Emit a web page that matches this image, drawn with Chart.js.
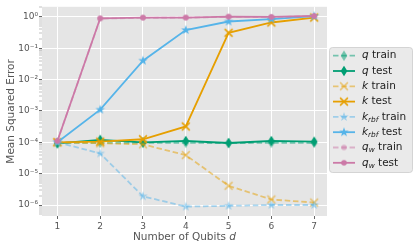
<!DOCTYPE html>
<html>
<head>
<meta charset="utf-8">
<script src="https://cdn.jsdelivr.net/npm/chart.js@4.4.1/dist/chart.umd.min.js"></script>
<style>
  html, body { margin: 0; padding: 0; background: #fff; }
  #wrap { width: 418px; height: 249px; }
</style>
</head>
<body>
<div id="wrap"><canvas id="mse"></canvas></div>
<script>
// qubit counts on the x axis
const qubits = [1, 2, 3, 4, 5, 6, 7];

// mean squared error per model
const qTrain    = [9.5e-5, 9.6e-5, 9.5e-5, 9.6e-5, 9.4e-5, 9.6e-5, 9.5e-5];
const qTest     = [9.2e-5, 1.2e-4, 1.0e-4, 1.1e-4, 9.5e-5, 1.1e-4, 1.05e-4];
const kTrain    = [1.0e-4, 9.3e-5, 8.6e-5, 3.9e-5, 4.1e-6, 1.5e-6, 1.2e-6];
const kTest     = [1.0e-4, 1.05e-4, 1.25e-4, 3.2e-4, 0.31, 0.66, 0.95];
const krbfTrain = [1.0e-4, 4.4e-5, 1.9e-6, 8.9e-7, 9.4e-7, 1.0e-6, 1.0e-6];
const krbfTest  = [1.0e-4, 1.1e-3, 0.04, 0.38, 0.71, 0.85, 1.05];
const qwTrain   = [1.1e-4, 0.88, 0.93, 0.94, 1.0, 0.98, 1.05];
const qwTest    = [1.1e-4, 0.9, 0.95, 0.95, 1.02, 1.0, 1.07];

const xTickLabels = ['1', '2', '3', '4', '5', '6', '7'];
const yTickLabels = ['10⁻⁶', '10⁻⁵', '10⁻⁴', '10⁻³', '10⁻²', '10⁻¹', '10⁰'];

const GREEN = '#009E73', ORANGE = '#E69F00', BLUE = '#56B4E9', PINK = '#CC79A7';

function drawShape(g, kind, color, m) {
  g.fillStyle = color;
  g.strokeStyle = color;
  g.beginPath();
  if (kind === 'diamond') {
    g.moveTo(m, m - 5.3); g.lineTo(m + 3.3, m); g.lineTo(m, m + 5.3); g.lineTo(m - 3.3, m);
    g.closePath(); g.fill();
  } else if (kind === 'x') {
    g.lineWidth = 1.5;
    g.moveTo(m - 3.9, m - 3.9); g.lineTo(m + 3.9, m + 3.9);
    g.moveTo(m + 3.9, m - 3.9); g.lineTo(m - 3.9, m + 3.9);
    g.stroke();
  } else if (kind === 'star') {
    for (let i = 0; i < 10; i++) {
      const r = i % 2 ? 2.0 : 5.0;
      const a = -Math.PI / 2 + i * Math.PI / 5;
      const px = m + r * Math.cos(a), py = m + r * Math.sin(a);
      i ? g.lineTo(px, py) : g.moveTo(px, py);
    }
    g.closePath(); g.fill();
  } else {
    g.arc(m, m, 2.8, 0, Math.PI * 2); g.fill();
  }
}

function makeMarker(kind, color, alpha) {
  const s = 14;
  const tmp = document.createElement('canvas');
  tmp.width = tmp.height = s;
  drawShape(tmp.getContext('2d'), kind, color, s / 2);
  const c = document.createElement('canvas');
  c.width = c.height = s;
  const g = c.getContext('2d');
  g.globalAlpha = alpha;
  g.drawImage(tmp, 0, 0);
  return c;
}

function rgba(hex, a) {
  const n = parseInt(hex.slice(1), 16);
  return `rgba(${n >> 16},${(n >> 8) & 255},${n & 255},${a})`;
}

const series = [
  { base: 'q', sub: '',    rest: ' train', data: qTrain,    color: GREEN,  kind: 'diamond', train: true },
  { base: 'q', sub: '',    rest: ' test',  data: qTest,     color: GREEN,  kind: 'diamond', train: false },
  { base: 'k', sub: '',    rest: ' train', data: kTrain,    color: ORANGE, kind: 'x',       train: true },
  { base: 'k', sub: '',    rest: ' test',  data: kTest,     color: ORANGE, kind: 'x',       train: false },
  { base: 'k', sub: 'rbf', rest: ' train', data: krbfTrain, color: BLUE,   kind: 'star',    train: true },
  { base: 'k', sub: 'rbf', rest: ' test',  data: krbfTest,  color: BLUE,   kind: 'star',    train: false },
  { base: 'q', sub: 'w',   rest: ' train', data: qwTrain,   color: PINK,   kind: 'circle',  train: true },
  { base: 'q', sub: 'w',   rest: ' test',  data: qwTest,    color: PINK,   kind: 'circle',  train: false },
];
series.forEach(s => {
  s.alpha = s.train ? 0.5 : 1;
  s.marker = makeMarker(s.kind, s.color, s.alpha);
});

const datasets = series.map((s, i) => ({
  label: s.base + s.sub + s.rest,
  data: qubits.map((q, j) => ({ x: q, y: s.data[j] })),
  borderColor: rgba(s.color, s.alpha),
  borderWidth: 1.8,
  borderDash: s.train ? [5.5, 2.8] : [],
  pointStyle: s.marker,
  pointRadius: 5,
  pointHoverRadius: 5,
  tension: 0,
  fill: false,
  order: 10 - i,
}));

const isDecade = v => Math.abs(Math.log10(v) - Math.round(Math.log10(v))) < 1e-6;

const plotBg = {
  id: 'plotBg',
  beforeDraw(chart) {
    const { ctx, chartArea: a } = chart;
    ctx.save();
    ctx.fillStyle = '#E5E5E5';
    ctx.fillRect(a.left, a.top, a.right - a.left, a.bottom - a.top);
    ctx.restore();
  }
};

function drawLabel(ctx, s, x, y) {
  ctx.textBaseline = 'middle';
  ctx.textAlign = 'left';
  ctx.fillStyle = '#222';
  ctx.font = 'italic 10.5px "DejaVu Sans"';
  ctx.fillText(s.base, x, y);
  x += ctx.measureText(s.base).width;
  if (s.sub) {
    ctx.font = 'italic 7.4px "DejaVu Sans"';
    ctx.fillText(s.sub, x, y + 3);
    x += ctx.measureText(s.sub).width;
  }
  ctx.font = '10.5px "DejaVu Sans"';
  ctx.fillText(s.rest, x, y);
}

const decorations = {
  id: 'decorations',
  afterDraw(chart) {
    const { ctx, chartArea: a } = chart;
    ctx.save();
    // axis titles
    ctx.fillStyle = '#555';
    ctx.font = '10.5px "DejaVu Sans"';
    ctx.textBaseline = 'middle';
    ctx.save();
    ctx.translate(11, (a.top + a.bottom) / 2);
    ctx.rotate(-Math.PI / 2);
    ctx.textAlign = 'center';
    ctx.fillText('Mean Squared Error', 0, 0);
    ctx.restore();
    const t1 = 'Number of Qubits ';
    ctx.font = '10.5px "DejaVu Sans"';
    const w1 = ctx.measureText(t1).width;
    ctx.font = 'italic 10.5px "DejaVu Sans"';
    const w2 = ctx.measureText('d').width;
    let x0 = (a.left + a.right) / 2 - (w1 + w2) / 2;
    ctx.textAlign = 'left';
    ctx.font = '10.5px "DejaVu Sans"';
    ctx.fillText(t1, x0, 237);
    ctx.font = 'italic 10.5px "DejaVu Sans"';
    ctx.fillText('d', x0 + w1, 237);

    // legend
    const lx = 329.5, ly = 47.5, lw = 83, lh = 125;
    ctx.beginPath();
    ctx.roundRect(lx, ly, lw, lh, 3);
    ctx.fillStyle = 'rgba(229,229,229,0.8)';
    ctx.fill();
    ctx.strokeStyle = 'rgba(204,204,204,0.8)';
    ctx.lineWidth = 1;
    ctx.stroke();
    series.forEach((s, i) => {
      const y = 55.7 + i * 15.3;
      ctx.save();
      ctx.strokeStyle = rgba(s.color, s.alpha);
      ctx.lineWidth = 1.8;
      ctx.setLineDash(s.train ? [5.5, 2.8] : []);
      ctx.beginPath();
      ctx.moveTo(333, y);
      ctx.lineTo(355, y);
      ctx.stroke();
      ctx.restore();
      ctx.drawImage(s.marker, 344 - s.marker.width / 2, y - s.marker.height / 2);
      drawLabel(ctx, s, 362, y);
    });
    ctx.restore();
  }
};

new Chart(document.getElementById('mse'), {
  type: 'line',
  data: { datasets },
  options: {
    responsive: true,
    maintainAspectRatio: false,
    animation: false,
    layout: { padding: { left: 0, top: 6, right: 91, bottom: 0 } },
    plugins: { legend: { display: false }, tooltip: { enabled: false } },
    scales: {
      x: {
        type: 'linear',
        min: 0.64,
        max: 7.3,
        afterBuildTicks: scale => { scale.ticks = qubits.map(v => ({ value: v })); },
        afterFit: scale => { scale.height = 33; },
        border: { display: false },
        grid: { color: '#fff', lineWidth: 1, tickColor: '#666', tickWidth: 1, tickLength: 3 },
        ticks: {
          autoSkip: false,
          maxRotation: 0,
          padding: 2,
          color: '#555',
          font: { family: 'DejaVu Sans', size: 9 },
          callback: (v, i) => xTickLabels[i],
        },
      },
      y: {
        type: 'logarithmic',
        min: Math.pow(10, -6.35),
        max: Math.pow(10, 0.32),
        afterBuildTicks: scale => {
          const ticks = [];
          for (let e = -7; e <= 0; e++) {
            for (let k = 1; k <= 9; k++) {
              const v = k * Math.pow(10, e);
              if (v >= scale.min && v <= scale.max) ticks.push({ value: v });
            }
          }
          scale.ticks = ticks;
        },
        afterFit: scale => { scale.width = 42; },
        border: { display: false },
        grid: {
          color: c => isDecade(c.tick.value) ? '#fff' : 'rgba(0,0,0,0)',
          lineWidth: c => isDecade(c.tick.value) ? 1 : 0,
          tickColor: c => isDecade(c.tick.value) ? '#666' : '#999',
          tickWidth: c => isDecade(c.tick.value) ? 1 : 0.6,
          tickLength: 3,
        },
        ticks: {
          autoSkip: false,
          padding: 1,
          color: '#555',
          font: { family: 'DejaVu Sans', size: 9 },
          callback: v => isDecade(v) ? yTickLabels[Math.round(Math.log10(v)) + 6] : '',
        },
      },
    },
  },
  plugins: [plotBg, decorations],
});
</script>
</body>
</html>
